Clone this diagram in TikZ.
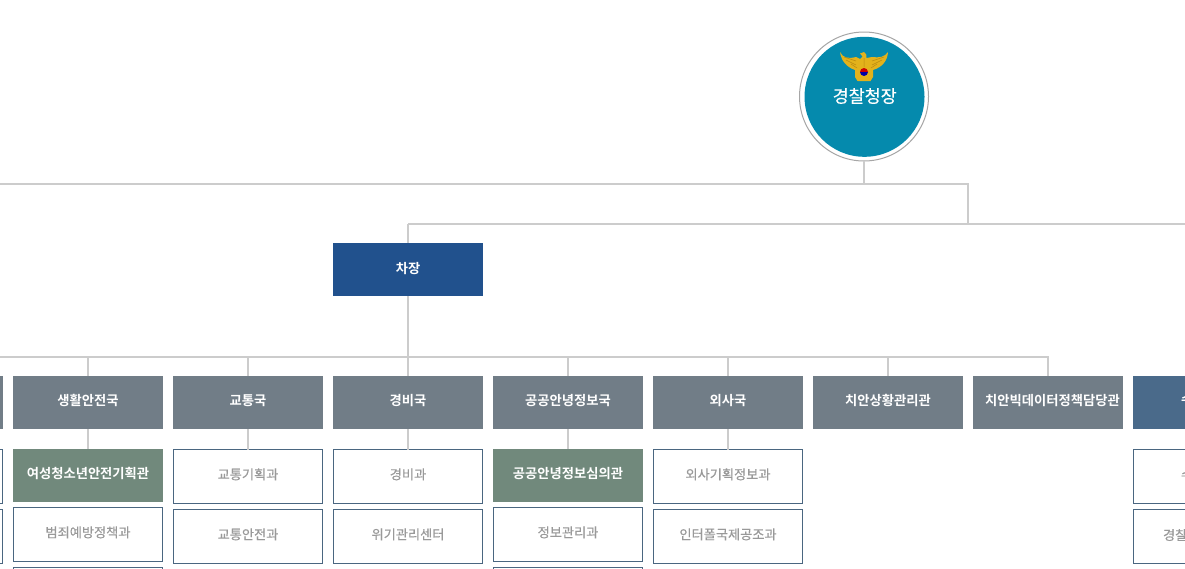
\documentclass[tikz,border=0pt]{standalone}
\usepackage{fontspec}
\setmainfont{Noto Sans CJK KR}[BoldFont={Noto Sans CJK KR Bold}]
\newfontfamily\semi{Noto Sans CJK KR}[FakeBold=0.35]
\definecolor{lineg}{HTML}{CCCCCC}
\definecolor{hdr}{HTML}{717D87}
\definecolor{chair}{HTML}{21518D}
\definecolor{grn}{HTML}{71897C}
\definecolor{bluehd}{HTML}{4A6A8A}
\definecolor{edge}{HTML}{4A6680}
\definecolor{txtg}{HTML}{999999}
\definecolor{teal}{HTML}{058AAD}
\definecolor{gold}{HTML}{E3B21B}
\definecolor{golddk}{HTML}{B98A10}
\tikzset{
 x=1pt,y=-1pt,
 conn/.style={draw=lineg,line width=2pt},
 basebox/.style={rectangle,inner sep=0pt,outer sep=0pt,align=center,text height=9pt,text depth=3.4pt,font=\fontsize{13.2}{15}\selectfont\semi},
 headbox/.style={basebox,fill=hdr,text=white,minimum width=150pt,minimum height=53pt,font=\fontsize{13.3}{15}\selectfont\bfseries},
 chairbox/.style={headbox,fill=chair,text depth=1.6pt},
 bluebox/.style={headbox,fill=bluehd},
 greenbox/.style={headbox,fill=grn},
 subbox/.style={basebox,draw=edge,line width=1pt,fill=white,text=txtg,minimum width=149pt,minimum height=54pt},
 tallbox/.style={subbox,minimum height=60pt},
 clipped/.style={inner sep=0pt,outer sep=0pt,anchor=west,font=\fontsize{13.2}{15}\selectfont\semi},
}
\begin{document}
\begin{tikzpicture}
\useasboundingbox (0,0) rectangle (1185,568);
\clip (0,0) rectangle (1185,568);
\fill[white] (0,0) rectangle (1185,568);
% chief
\node[circle,draw=black!35,line width=1pt,fill=white,minimum size=129pt,inner sep=0pt,outer sep=0pt] (outer) at (864,96.5) {};
\node[circle,fill=teal,minimum size=120pt,inner sep=0pt,outer sep=0pt] (chief) at (864.5,96.8) {};
\node[inner sep=0pt,text=white,font=\fontsize{17.4}{19}\selectfont\semi] (chieft) at (864.7,96) {경찰청장};
% emblem
\fill[gold] (840,52) .. controls (843,58) and (848,59) .. (856,57) -- (860,59) -- (862.5,56.5) -- (860,53.5) -- (864,52) .. controls (866,53) and (867,55) .. (866.5,58) -- (872,57) .. controls (879,58) and (885,57) .. (888,52)
 .. controls (887.5,60) and (883,67) .. (873,70) -- (873,77) -- (870.5,81) -- (857.5,81) -- (855,77) -- (855,70) .. controls (846,67) and (841,60) .. (840,52) -- cycle;
\draw[golddk,line width=.5pt] (846,60) -- (856,65) (851,64) -- (857,68) (882,60) -- (872,65) (877,64) -- (871,68) (844,57) -- (856,61) (884,57) -- (872,61) (864,58) -- (864,67);
\fill[red!80!black] (860,72) arc[start angle=180,end angle=360,radius=4pt,y radius=-4pt] -- cycle;
\fill[blue!65!black] (860,72) arc[start angle=180,end angle=0,radius=4pt,y radius=-4pt] -- cycle;
% boxes
\node[chairbox] (vice) at (408,269.5) {차장};
\node[headbox] (h0) at (-72,402.5) {};
\node[headbox] (h1) at (88,402.5) {생활안전국};
\node[headbox] (h2) at (248,402.5) {교통국};
\node[headbox] (h3) at (408,402.5) {경비국};
\node[headbox] (h4) at (568,402.5) {공공안녕정보국};
\node[headbox] (h5) at (728,402.5) {외사국};
\node[headbox] (h6) at (888,402.5) {치안상황관리관};
\node[headbox] (h7) at (1048,402.5) {\hspace*{9pt}치안빅데이터정책담당관};
\node[bluebox] (h8) at (1208,402.5) {};
\node[subbox] (a01) at (-72,476.5) {};
\node[subbox] (a02) at (-72,536.5) {};
\node[greenbox] (a11) at (88,475.5) {여성청소년안전기획관};
\node[subbox] (a12) at (88,534.5) {범죄예방정책과};
\node[tallbox,anchor=north] (a13) at (88,567.5) {};
\node[subbox] (a21) at (248,476.5) {교통기획과};
\node[subbox] (a22) at (248,536.5) {교통안전과};
\node[subbox] (a31) at (408,476.5) {경비과};
\node[subbox] (a32) at (408,536.5) {위기관리센터};
\node[greenbox] (a41) at (568,475.5) {공공안녕정보심의관};
\node[subbox] (a42) at (568,534.5) {정보관리과};
\node[tallbox,anchor=north] (a43) at (568,567.5) {};
\node[subbox] (a51) at (728,476.5) {외사기획정보과};
\node[subbox] (a52) at (728,536.5) {인터폴국제공조과};
\node[subbox] (a81) at (1208,476.5) {};
\node[subbox] (a82) at (1208,536.5) {};
\node[clipped,text=white,font=\fontsize{13.3}{15}\selectfont\bfseries] (t80) at (1181,400) {수};
\node[clipped,text=txtg] (t81) at (1181,475) {수};
\node[clipped,text=txtg] (t82) at (1163,535) {경찰};
% connectors
\coordinate (b1) at (outer.south |- 0,184);
\coordinate (b1l) at (0,184);
\coordinate (b1r) at (968,184);
\coordinate (b2r) at (968,224);
\coordinate (b2l) at (vice.north |- 0,224);
\coordinate (b2e) at (1185,224);
\coordinate (b3l) at (0,357);
\coordinate (b3e) at (h7.north |- 0,357);
\draw[conn] (outer.south) -- (b1);
\draw[conn] (b1l) -- (b1r) -- (b2r);
\draw[conn] (b2l) -- (b2e);
\draw[conn] (b2l) -- (vice.north);
\draw[conn] (vice.south) -- (h3.north);
\draw[conn] (b3l) -- (b3e) -- (h7.north);
\foreach \n in {h1,h2,h5,h4,h6}{\draw[conn] (\n.north |- 0,357) -- (\n.north);}
\draw[conn] (h1.south) -- (a11.north);
\draw[conn] (h2.south) -- (a21.north);
\draw[conn] (h3.south) -- (a31.north);
\draw[conn] (h4.south) -- (a41.north);
\draw[conn] (h5.south) -- (a51.north);
\end{tikzpicture}
\end{document}
